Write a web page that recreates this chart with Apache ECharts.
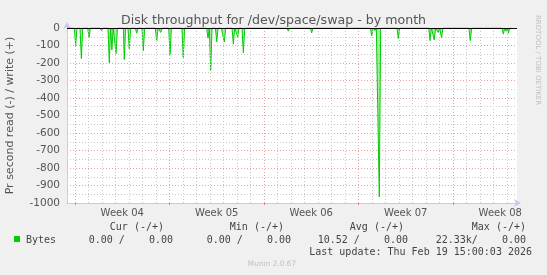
<!DOCTYPE html>
<html><head><meta charset="utf-8">
<script src="https://cdn.jsdelivr.net/npm/echarts@6/dist/echarts.min.js"></script>
<style>html,body{margin:0;padding:0;background:#f0f0f0;}#c{width:547px;height:275px;}</style>
</head><body><div id="c"></div>
<script>
// time in days relative to Mon Jan 19 2026 00:00 (start of Week 04)
const spikeDays = [-0.48,0.05,0.47,1.04,1.48,1.96,2.54,2.73,3.04,3.48,3.65,4.02,4.57,5.06,5.56,6.05,6.35,7.04,8.02,8.52,9.01,9.85,10.05,10.50,10.74,11.06,11.73,12.05,12.47,13.09,13.46,14.07,14.67,15.04,15.80,17.53,19.01,20.99,21.98,22.22,22.54,23.95,24.74,25.56,26.30,26.61,26.91,27.15,29.28,31.73,31.93,32.10];
const spikeValues = [-5,-100,-175,-55,-3,-15,-198,-125,-147,-8,-180,-118,-30,-130,-5,-75,-25,-152,-168,-3,-8,-58,-242,-78,-10,-80,-92,-50,-142,-8,-5,-3,-10,-4,-18,-28,-5,-5,-45,-15,-965,-60,-5,-10,-72,-68,-25,-55,-72,-35,-18,-30];
const weekLabels = ['Week 04','Week 05','Week 06','Week 07','Week 08'];
const weekLabelDays = [3.5,10.5,17.5,24.5,31.5];
const weekStartDays = [0,7,14,21,28];
const xMin = -0.593, xMax = 32.74;

const half = 0.1;
const seriesData = [[xMin,0]];
spikeDays.forEach((d,i)=>{ seriesData.push([d-half,0],[d,spikeValues[i]],[d+half,0]); });
seriesData.push([32.3,0]);

const dayLines = [];
for (let d = 0; d <= 32; d++) {
  const major = weekStartDays.indexOf(d) >= 0;
  dayLines.push({xAxis: d, lineStyle: {color: major ? '#e8a0a0' : '#c8c8c8', type: [1,2], width: 1}});
}

const mono = '10px "DejaVu Sans Mono"';
const chart = echarts.init(document.getElementById('c'), null, {renderer:'canvas'});
chart.setOption({
  backgroundColor: '#f0f0f0',
  animation: false,
  title: {
    text: 'Disk throughput for /dev/space/swap - by month',
    left: 'center', top: 9,
    textStyle: {fontFamily: 'DejaVu Sans', fontSize: 12.6, fontWeight: 'normal', color: '#555'}
  },
  grid: {left: 67, right: 30, top: 28, bottom: 72, show: true, backgroundColor: '#ffffff', borderWidth: 0,
    containLabel: false, outerBoundsMode: 'none'},
  xAxis: {
    type: 'value', min: xMin, max: xMax,
    axisLine: {onZero: false, lineStyle: {color: '#c8c8f8', width: 1}, symbol: ['none','arrow'], symbolSize: [6,7], symbolOffset: [0,4]},
    axisTick: {show: true, customValues: weekStartDays, length: 2, inside: false, lineStyle: {color: '#e08080'}},
    axisLabel: {customValues: weekLabelDays, formatter: v => weekLabels[weekLabelDays.indexOf(v)] || '',
      fontFamily: 'DejaVu Sans', fontSize: 10, color: '#555', margin: 5},
    splitLine: {show: false}
  },
  yAxis: {
    type: 'value', min: -1000, max: 0, interval: 100,
    name: 'Pr second read (-) / write (+)', nameLocation: 'middle', nameGap: 51,
    nameTextStyle: {fontFamily: 'DejaVu Sans', fontSize: 11, color: '#555'},
    axisLine: {show: true, onZero: false, lineStyle: {color: '#c8c8f8', width: 1}, symbol: ['none','arrow'], symbolSize: [6,7], symbolOffset: [0,6]},
    axisTick: {show: false},
    axisLabel: {fontFamily: 'DejaVu Sans', fontSize: 10.5, color: '#555', margin: 7, formatter: v => String(v)},
    splitLine: {show: true, lineStyle: {color: '#e8a0a0', type: [1,2], width: 1}},
    minorTick: {show: false, splitNumber: 2},
    minorSplitLine: {show: true, lineStyle: {color: '#c8c8c8', type: [1,2], width: 1}}
  },
  series: [
    {
      type: 'line', data: [], z: 1, silent: true,
      markLine: {silent: true, symbol: ['none','none'], label: {show: false}, animation: false, data: dayLines}
    },
    {
      type: 'line', data: seriesData, z: 3, showSymbol: false, symbol: 'none',
      lineStyle: {color: '#00cc00', width: 1},
      areaStyle: {color: 'rgba(0,204,0,0.5)'},
      markLine: {silent: true, symbol: ['none','none'], label: {show: false}, animation: false,
        data: [{yAxis: 0, lineStyle: {color: '#000', type: 'solid', width: 1}}]}
    }
  ],
  graphic: [
    {type: 'text', left: 534, top: 15, rotation: -Math.PI/2, originX: 0, originY: 0,
      style: {text: 'RRDTOOL / TOBI OETIKER', font: '7px "DejaVu Sans"', fill: '#c0c0c0'}},
    {type: 'rect', shape: {x: 14, y: 236, width: 6, height: 6}, style: {fill: '#00cc00'}},
    {type: 'text', x: 26, y: 240, style: {text: 'Bytes', font: mono, fill: '#444', textVerticalAlign: 'middle'}},
    {type: 'text', x: 164, y: 227, style: {text: 'Cur (-/+)', font: mono, fill: '#444', textAlign: 'right', textVerticalAlign: 'middle'}},
    {type: 'text', x: 284, y: 227, style: {text: 'Min (-/+)', font: mono, fill: '#444', textAlign: 'right', textVerticalAlign: 'middle'}},
    {type: 'text', x: 404, y: 227, style: {text: 'Avg (-/+)', font: mono, fill: '#444', textAlign: 'right', textVerticalAlign: 'middle'}},
    {type: 'text', x: 526, y: 227, style: {text: 'Max (-/+)', font: mono, fill: '#444', textAlign: 'right', textVerticalAlign: 'middle'}},
    {type: 'text', x: 173, y: 240, style: {text: '0.00 /    0.00', font: mono, fill: '#444', textAlign: 'right', textVerticalAlign: 'middle'}},
    {type: 'text', x: 291, y: 240, style: {text: '0.00 /    0.00', font: mono, fill: '#444', textAlign: 'right', textVerticalAlign: 'middle'}},
    {type: 'text', x: 408, y: 240, style: {text: '10.52 /    0.00', font: mono, fill: '#444', textAlign: 'right', textVerticalAlign: 'middle'}},
    {type: 'text', x: 526, y: 240, style: {text: '22.33k/    0.00', font: mono, fill: '#444', textAlign: 'right', textVerticalAlign: 'middle'}},
    {type: 'text', x: 532, y: 252, style: {text: 'Last update: Thu Feb 19 15:00:03 2026', font: mono, fill: '#444', textAlign: 'right', textVerticalAlign: 'middle'}},
    {type: 'text', x: 272, y: 264, style: {text: 'Munin 2.0.67', font: '7.4px "DejaVu Sans"', fill: '#c0c0c0', textAlign: 'center', textVerticalAlign: 'middle'}}
  ]
});
</script></body></html>
